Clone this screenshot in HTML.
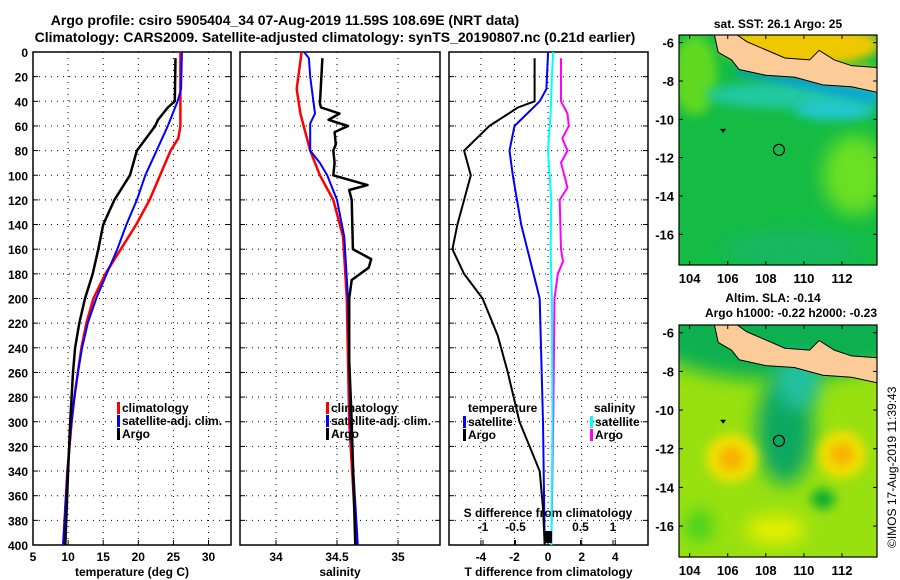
<!DOCTYPE html>
<html><head><meta charset="utf-8"><style>
body{margin:0;background:#fff}
svg{display:block;font-family:"Liberation Sans",sans-serif;font-weight:bold}
</style></head><body>
<svg id="c" width="900" height="580" viewBox="0 0 900 580">
<defs>
<filter id="bl" x="-50%" y="-50%" width="200%" height="200%"><feGaussianBlur stdDeviation="9"/></filter>
<filter id="bl2" x="-50%" y="-50%" width="200%" height="200%"><feGaussianBlur stdDeviation="5"/></filter>
<clipPath id="m1"><rect x="679" y="35" width="198" height="230"/></clipPath>
<clipPath id="m2"><rect x="679" y="325" width="198" height="232"/></clipPath>
</defs>
<text x="285" y="25" font-size="14" text-anchor="middle">Argo profile: csiro 5905404_34 07-Aug-2019 11.59S 108.69E (NRT data)</text>
<text x="335" y="42" font-size="14" text-anchor="middle">Climatology: CARS2009. Satellite-adjusted climatology: synTS_20190807.nc (0.21d earlier)</text>
<g id="maps"></g>
<g id="plots"></g>
</svg>
<script>
// depth grid/ticks
const depthTicks=[0,20,40,60,80,100,120,140,160,180,200,220,240,260,280,300,320,340,360,380,400];
const tempTicks=[5,10,15,20,25,30];
const salTicks=[34,34.5,35];
const tdTicks=[-4,-2,0,2,4];
const sdTicks=[-1,-0.5,0,0.5,1];
const sdTickLabels=["-1","-0.5","","0.5","1"];
// temperature profiles
const tClimD=[0,25,60,70,80,100,120,140,160,180,200,220,240,260,280,300,320,340,360,380,400];
const tClimV=[26,26,26,25.7,24.6,23.1,21.6,19.7,17.5,15.3,13.6,12.6,11.9,11.4,10.9,10.5,10.2,9.9,9.7,9.5,9.3];
const tSatD=[0,30,40,60,80,100,120,140,160,180,200,220,240,260,280,300,320,340,360,380,400];
const tSatV=[26.2,26.1,25.6,24.2,22.6,21,19.8,18.3,17,15.5,14,12.8,12,11.4,10.9,10.5,10.2,9.9,9.7,9.5,9.3];
const tArgoD=[5,40,45,55,60,80,100,120,140,160,180,200,220,240,260,280,300,340,400];
const tArgoV=[25.3,25.2,24.2,22.8,22.4,19.8,18.8,16.6,15,14.3,13.5,12.4,11.6,11,10.7,10.5,10.3,10,9.6];
// salinity profiles
const sClimD=[0,30,50,80,100,120,150,200,250,300,400];
const sClimV=[34.21,34.17,34.2,34.28,34.36,34.47,34.55,34.58,34.59,34.6,34.66];
const sSatD=[0,5,20,50,58,80,90,100,120,150,200,300,400];
const sSatV=[34.23,34.27,34.28,34.32,34.28,34.28,34.36,34.42,34.5,34.56,34.59,34.61,34.67];
const sArgoD=[5,42,45,50,55,60,65,75,80,90,100,108,112,120,160,168,175,185,200,250,300,400];
const sArgoV=[34.38,34.36,34.37,34.52,34.43,34.59,34.48,34.49,34.47,34.48,34.47,34.75,34.6,34.62,34.63,34.78,34.76,34.62,34.6,34.6,34.62,34.65];
// differences
const dTSatD=[0,30,40,60,80,100,140,200,300,400];
const dTSatV=[0,-0.1,-0.5,-2,-2.3,-2.1,-1.6,-0.5,-0.3,-0.2];
const dTArgoD=[5,40,45,60,80,100,120,140,160,180,200,230,260,300,340,370,400];
const dTArgoV=[-0.8,-0.8,-1.8,-3.5,-5,-4.6,-5,-5.4,-5.7,-5,-3.9,-3,-2.4,-1.7,-0.5,-0.3,-0.2];
const dSSatD=[0,20,50,80,120,160,200,300,400];
const dSSatV=[0.08,0.06,0.04,0,0.05,0.04,0.06,0.07,0.05];
const dSArgoD=[5,40,50,60,70,80,90,100,110,120,160,170,180,200,300,400];
const dSArgoV=[0.2,0.2,0.3,0.32,0.22,0.3,0.2,0.25,0.3,0.18,0.2,0.23,0.15,0.1,0.08,0.05];

const NS='http://www.w3.org/2000/svg';
const plots=document.getElementById('plots');
function el(tag,attrs,parent,text){const e=document.createElementNS(NS,tag);for(const k in attrs)e.setAttribute(k,attrs[k]);if(text!==undefined)e.textContent=text;(parent||plots).appendChild(e);return e;}
const Y0=52,Y1=545;
const yS=d=>Y0+(Y1-Y0)*d/400;
const panels=[
 {x0:33,x1:231,v0:5,v1:33.2,name:'temperature-panel'},
 {x0:240,x1:440,v0:33.705,v1:35.344,name:'salinity-panel'},
 {x0:449,x1:648,v0:-5.9,v1:5.95,name:'difference-panel'}];
function xs(p,v){return p.x0+(v-p.v0)/(p.v1-p.v0)*(p.x1-p.x0);}
const sdX=v=>548+v*65;

function frame(p,ticks,lab){
 const g=el('g',{});
 
 
 depthTicks.forEach(d=>{
  if(d>0&&d<400){const l=el('line',{x1:p.x0,x2:p.x1,y1:yS(d),y2:yS(d),stroke:'#000','stroke-width':1,'stroke-dasharray':'1 5'},g);
   }
  el('line',{x1:p.x0,x2:p.x0+5,y1:yS(d),y2:yS(d),stroke:'#000'},g);
  el('line',{x1:p.x1-5,x2:p.x1,y1:yS(d),y2:yS(d),stroke:'#000'},g);
 });
 ticks.forEach(v=>{const x=xs(p,v);
  if(x>p.x0+1&&x<p.x1-1)el('line',{x1:x,x2:x,y1:Y0,y2:Y1,stroke:'#000','stroke-dasharray':'1 5'},g);
  el('line',{x1:x,x2:x,y1:Y1-5,y2:Y1,stroke:'#000'},g);
  const t=el('text',{x:x,y:Y1+16,'font-size':12,'text-anchor':'middle'},g,String(v));
  
 });
 el('rect',{x:p.x0,y:Y0,width:p.x1-p.x0,height:Y1-Y0,fill:'none',stroke:'#000','stroke-width':1.5},g);
 const xt=el('text',{x:(p.x0+p.x1)/2,y:Y1+31,'font-size':12,'text-anchor':'middle'},g,lab);
 
 return g;
}
const g1=frame(panels[0],tempTicks,'temperature (deg C)');
const g2=frame(panels[1],salTicks,'salinity');
const g3=frame(panels[2],tdTicks,'T difference from climatology');
depthTicks.forEach(d=>{const t=el('text',{x:28,y:yS(d)+5,'font-size':12,'text-anchor':'end'},g1,String(d));
 });
sdTicks.forEach((v,i)=>{el('line',{x1:sdX(v),x2:sdX(v),y1:Y1-5,y2:Y1,stroke:'#000'},g3);
 const t=el('text',{x:sdX(v),y:Y1-14,'font-size':12,'text-anchor':'middle'},g3,sdTickLabels[i]);
 });
const st=el('text',{x:548,y:Y1-28,'font-size':12,'text-anchor':'middle'},g3,'S difference from climatology');


function line(g,D,V,xf,color,w,name){
 const pts=D.map((d,i)=>xf(V[i]).toFixed(1)+','+yS(d).toFixed(1)).join(' ');
 const l=el('polyline',{points:pts,fill:'none',stroke:color,'stroke-width':w,'stroke-linejoin':'round'},g);
 
}
const p0=panels[0],p1=panels[1],p2=panels[2];
line(g1,tClimD,tClimV,v=>xs(p0,v),'#f00',2.5,'temp-climatology-line');
line(g1,tSatD,tSatV,v=>xs(p0,v),'#00f',2,'temp-satellite-line');
line(g1,tArgoD,tArgoV,v=>xs(p0,v),'#000',2.5,'temp-argo-line');
line(g2,sClimD,sClimV,v=>xs(p1,v),'#f00',2.5,'sal-climatology-line');
line(g2,sSatD,sSatV,v=>xs(p1,v),'#00f',2,'sal-satellite-line');
line(g2,sArgoD,sArgoV,v=>xs(p1,v),'#000',2.5,'sal-argo-line');
line(g3,dSArgoD,dSArgoV,sdX,'#f0f',2,'s-diff-argo-line');
line(g3,dSSatD,dSSatV,sdX,'#0ff',2,'s-diff-satellite-line');
line(g3,dTSatD,dTSatV,v=>xs(p2,v),'#00f',2,'t-diff-satellite-line');
line(g3,dTArgoD,dTArgoV,v=>xs(p2,v),'#000',2,'t-diff-argo-line');
el('rect',{x:544,y:Y1-14,width:8,height:12,fill:'#000'},g3);

function legend(g,x,y,items){items.forEach((it,i)=>{
 const yy=y+i*13;
 el('rect',{x:x,y:yy-10,width:3,height:12,fill:it[1]},g);
 const t=el('text',{x:x+5,y:yy,'font-size':12},g,it[0]);
 });}
legend(g1,117,412,[['climatology','#f00'],['satellite-adj. clim.','#00f'],['Argo','#000']]);
legend(g2,326,412,[['climatology','#f00'],['satellite-adj. clim.','#00f'],['Argo','#000']]);
el('text',{x:468,y:412,'font-size':12},g3,'temperature');
legend(g3,463,426,[['satellite','#00f'],['Argo','#000']]);
el('text',{x:594,y:412,'font-size':12},g3,'salinity');
legend(g3,590,426,[['satellite','#0ff'],['Argo','#f0f']]);

// maps
const maps=document.getElementById('maps');
const lonTicks=[104,106,108,110,112];
const latTicks=[-6,-8,-10,-12,-14,-16];
function map(y0,h,clip,name,body){
 const g=el('g',{},maps);
 
 const lx=lon=>679+(lon-103.44)/(113.84-103.44)*198;
 const ly=lat=>y0+(-5.6-lat)/(17.6-5.6)*h;
 const inner=el('g',{'clip-path':'url(#'+clip+')'},g);
 body(inner,lx,ly);
 const land='M'+lx(105.3)+','+y0+' L'+lx(105.5)+','+ly(-6.5)+' L'+lx(106.2)+','+ly(-6.9)+' L'+lx(106.6)+','+ly(-7.4)+' L'+lx(108)+','+ly(-7.7)+' L'+lx(109.5)+','+ly(-7.8)+' L'+lx(111)+','+ly(-8.2)+' L'+lx(112.5)+','+ly(-8.3)+' L'+lx(113.9)+','+ly(-8.6)+' L'+lx(113.9)+','+ly(-7.3)+' L'+lx(112.5)+','+ly(-7.2)+' L'+lx(111.6)+','+ly(-6.9)+' L'+lx(110.8)+','+ly(-6.4)+' L'+lx(110.3)+','+ly(-6.9)+' L'+lx(109)+','+ly(-6.8)+' L'+lx(108.3)+','+ly(-6.5)+' L'+lx(107)+','+ly(-5.95)+' L'+lx(106.5)+','+y0+' Z';
 const lp=el('path',{d:land,fill:'#fccc98',stroke:'#000','stroke-width':1},inner);
 
 el('path',{d:'M'+lx(105.6)+','+ly(-10.5)+' l6,0 l-3,4 z',fill:'#000'},inner);
 const c=el('circle',{cx:lx(108.69),cy:ly(-11.59),r:5.5,fill:'none',stroke:'#000','stroke-width':1.2},inner);
 
 el('rect',{x:679,y:y0,width:198,height:h,fill:'none',stroke:'#000','stroke-width':1.2},g);
 lonTicks.forEach(v=>{el('line',{x1:lx(v),x2:lx(v),y1:y0+h,y2:y0+h-4,stroke:'#000'},g);el('line',{x1:lx(v),x2:lx(v),y1:y0,y2:y0+4,stroke:'#000'},g);
  const t=el('text',{x:lx(v),y:y0+h+18,'font-size':13,'text-anchor':'middle'},g,String(v));
  });
 latTicks.forEach(v=>{el('line',{x1:679,x2:683,y1:ly(v),y2:ly(v),stroke:'#000'},g);el('line',{x1:873,x2:877,y1:ly(v),y2:ly(v),stroke:'#000'},g);
  const t=el('text',{x:674,y:ly(v)+5,'font-size':13,'text-anchor':'end'},g,String(v));
  });
}
map(35,230,'m1','sst-map',(g,lx,ly)=>{
 el('rect',{x:679,y:35,width:198,height:230,fill:'#14bc44'},g);
 el('ellipse',{cx:695,cy:75,rx:22,ry:40,fill:'#60d820',filter:'url(#bl2)'},g);
 el('ellipse',{cx:855,cy:175,rx:32,ry:40,fill:'#6ce020',filter:'url(#bl)'},g);
 el('ellipse',{cx:790,cy:250,rx:70,ry:20,fill:'#18b860',filter:'url(#bl)'},g);
 el('ellipse',{cx:800,cy:95,rx:95,ry:14,fill:'#20c8a0',filter:'url(#bl2)'},g);
 el('ellipse',{cx:835,cy:110,rx:40,ry:10,fill:'#20c8d0',filter:'url(#bl2)'},g);
 el('ellipse',{cx:800,cy:45,rx:80,ry:22,fill:'#f0c800',filter:'url(#bl2)'},g);
 el('ellipse',{cx:860,cy:75,rx:20,ry:8,fill:'#e8e000',filter:'url(#bl2)'},g);
 el('path',{d:'M'+lx(106.4)+','+ly(-7.3)+' L'+lx(110)+','+ly(-7.9)+' L'+lx(113.9)+','+ly(-8.7)+' L'+lx(113.9)+','+ly(-9.1)+' L'+lx(110)+','+ly(-8.3)+' L'+lx(106.5)+','+ly(-7.6)+'Z',fill:'#0090f0',filter:'url(#bl2)'},g);
});
map(325,232,'m2','sla-map',(g,lx,ly)=>{
 el('rect',{x:679,y:325,width:198,height:232,fill:'#98e010'},g);
 el('ellipse',{cx:778,cy:335,rx:130,ry:45,fill:'#10b050',filter:'url(#bl)'},g);
 el('ellipse',{cx:lx(109),cy:ly(-11),rx:28,ry:55,fill:'#10a860',filter:'url(#bl)'},g);
 el('ellipse',{cx:lx(109.7),cy:ly(-8.5),rx:22,ry:28,fill:'#20c0a0',filter:'url(#bl)'},g);
 el('ellipse',{cx:lx(106.2),cy:ly(-12.5),rx:26,ry:24,fill:'#f0e000',filter:'url(#bl2)'},g);
 el('ellipse',{cx:lx(106.2),cy:ly(-12.5),rx:12,ry:12,fill:'#f8b000',filter:'url(#bl2)'},g);
 el('ellipse',{cx:lx(112),cy:ly(-12.3),rx:24,ry:24,fill:'#f0e000',filter:'url(#bl2)'},g);
 el('ellipse',{cx:lx(112),cy:ly(-12.3),rx:12,ry:11,fill:'#f8b000',filter:'url(#bl2)'},g);
 el('ellipse',{cx:lx(111),cy:ly(-14.6),rx:12,ry:10,fill:'#10b030',filter:'url(#bl2)'},g);
 el('ellipse',{cx:lx(108.5),cy:ly(-16.2),rx:30,ry:14,fill:'#e8f000',filter:'url(#bl)'},g);
 el('ellipse',{cx:lx(104.5),cy:ly(-16),rx:12,ry:16,fill:'#30d020',filter:'url(#bl)'},g);
});
[['sat. SST: 26.1 Argo: 25',778,28],['Altim. SLA: -0.14',773,302],['Argo h1000: -0.22 h2000: -0.23',791,317]].forEach(a=>{
 const t=el('text',{x:a[1],y:a[2],'font-size':12,'text-anchor':'middle'},maps,a[0]);
 });
const cr=el('text',{x:896,y:548,'font-size':12,'font-weight':'normal',transform:'rotate(-90 896 548)'},maps,'©IMOS 17-Aug-2019 11:39:43');

</script>
</body></html>
